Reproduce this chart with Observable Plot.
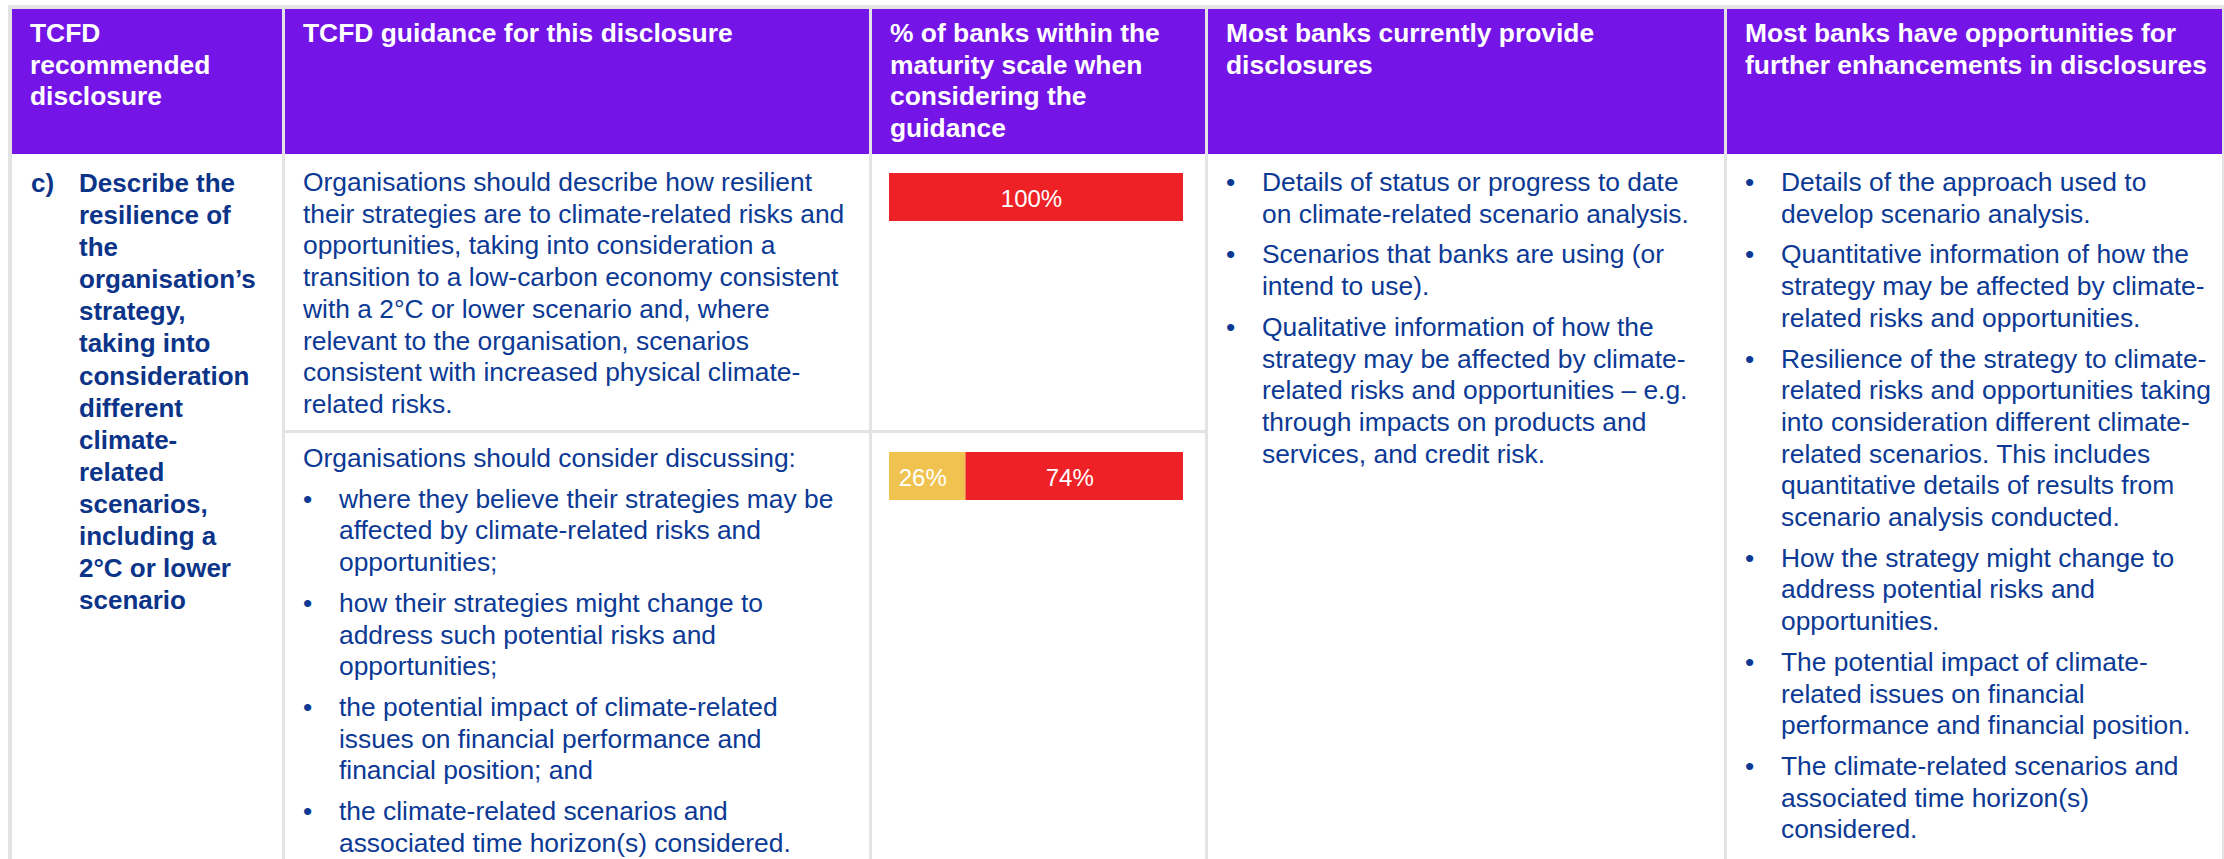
<!DOCTYPE html>
<html>
<head>
<meta charset="utf-8">
<script src="https://cdn.jsdelivr.net/npm/d3@7"></script>
<script src="https://cdn.jsdelivr.net/npm/@observablehq/plot@0.6"></script>
<style>
  html, body { margin: 0; padding: 0; background: #ffffff; width: 2224px; height: 859px; overflow: hidden; }
  body { position: relative; font-family: "Liberation Sans", Arial, sans-serif; }
  #frame { position: absolute; left: 8px; top: 5px; width: 2216px; height: 900px; background: #e3e3e3; }
  .cell { position: absolute; box-sizing: border-box; overflow: hidden; }
  .head { background: #7414e6; color: #ffffff; font-weight: bold; font-size: 26.4px; line-height: 31.7px; padding: 9px 0 0 18px; }
  .body { background: #ffffff; color: #0b3994; font-size: 26.4px; line-height: 31.7px; padding-left: 18px; }
  .line { white-space: nowrap; }
  .para { position: relative; }
  .para + .para { margin-top: 9px; }
  .bul { padding-left: 36px; }
  .bul .dot { position: absolute; left: 0; top: 0; }
  .lbl { position: absolute; left: 19px; font-weight: bold; }
  .bold { font-weight: bold; color: #0b3489; font-size: 26px; line-height: 32.1px; }
  svg { display: block; }
</style>
</head>
<body>
<div id="frame"></div>
<script>
// ---------- data ----------
const headerTexts = [
  ["TCFD", "recommended", "disclosure"],
  ["TCFD guidance for this disclosure"],
  ["% of banks within the", "maturity scale when", "considering the", "guidance"],
  ["Most banks currently provide", "disclosures"],
  ["Most banks have opportunities for", "further enhancements in disclosures"]
];
const disclosureLabel = "c)";
const disclosureLines = ["Describe the", "resilience of", "the", "organisation\u2019s", "strategy,", "taking into",
  "consideration", "different", "climate-", "related", "scenarios,", "including a", "2°C or lower", "scenario"];
const guidance1Lines = [
  "Organisations should describe how resilient",
  "their strategies are to climate-related risks and",
  "opportunities, taking into consideration a",
  "transition to a low-carbon economy consistent",
  "with a 2°C or lower scenario and, where",
  "relevant to the organisation, scenarios",
  "consistent with increased physical climate-",
  "related risks."
];
const guidance2Intro = ["Organisations should consider discussing:"];
const guidance2Bullets = [
  ["where they believe their strategies may be", "affected by climate-related risks and", "opportunities;"],
  ["how their strategies might change to", "address such potential risks and", "opportunities;"],
  ["the potential impact of climate-related", "issues on financial performance and", "financial position; and"],
  ["the climate-related scenarios and", "associated time horizon(s) considered."]
];
const currentBullets = [
  ["Details of status or progress to date", "on climate-related scenario analysis."],
  ["Scenarios that banks are using (or", "intend to use)."],
  ["Qualitative information of how the", "strategy may be affected by climate-", "related risks and opportunities \u2013 e.g.", "through impacts on products and", "services, and credit risk."]
];
const enhanceBullets = [
  ["Details of the approach used to", "develop scenario analysis."],
  ["Quantitative information of how the", "strategy may be affected by climate-", "related risks and opportunities."],
  ["Resilience of the strategy to climate-", "related risks and opportunities taking", "into consideration different climate-", "related scenarios. This includes", "quantitative details of results from", "scenario analysis conducted."],
  ["How the strategy might change to", "address potential risks and", "opportunities."],
  ["The potential impact of climate-", "related issues on financial", "performance and financial position."],
  ["The climate-related scenarios and", "associated time horizon(s)", "considered."]
];
const maturityLevels = ["partial", "full"];
const maturityColors = ["#f0c350", "#ee2226"];
const bar1Levels = ["full"];
const bar1Values = [100];
const bar2Levels = ["partial", "full"];
const bar2Values = [26, 74];

// ---------- layout ----------
const colLeft = [12, 285, 872, 1208, 1727];
const colRight = [282, 869, 1205, 1724, 2222];
const headTop = 9, headBottom = 154, rowDivTop = 430, rowDivBottom = 433, bottom = 900;
const body = d3.select("body");

function cell(cls, col, top, bot) {
  return body.append("div").attr("class", "cell " + cls)
    .style("left", colLeft[col] + "px").style("top", top + "px")
    .style("width", (colRight[col] - colLeft[col]) + "px").style("height", (bot - top) + "px");
}
function addLines(sel, lines) {
  lines.forEach(t => sel.append("div").attr("class", "line").text(t));
}
function addBullets(sel, list) {
  list.forEach(lines => {
    const p = sel.append("div").attr("class", "para bul");
    p.append("span").attr("class", "dot").text("\u2022");
    addLines(p, lines);
  });
}

// header
headerTexts.forEach((lines, i) => addLines(cell("head", i, headTop, headBottom), lines));

// column 1
const c1 = cell("body bold", 0, headBottom, bottom).style("padding-top", "13px").style("padding-left", "67px");
c1.append("div").attr("class", "lbl").style("top", "13px").text(disclosureLabel);
addLines(c1, disclosureLines);

// column 2
const g1 = cell("body", 1, headBottom, rowDivTop).style("padding-top", "13px");
addLines(g1.append("div").attr("class", "para"), guidance1Lines);
const g2 = cell("body", 1, rowDivBottom, bottom).style("padding-top", "10px");
addLines(g2.append("div").attr("class", "para"), guidance2Intro);
addBullets(g2, guidance2Bullets);

// column 3 : bars
function bar(levels, values) {
  const data = levels.map((l, i) => ({level: l, pct: values[i]}));
  return Plot.plot({
    width: colRight[2] - colLeft[2], height: 48,
    marginLeft: 17, marginRight: 22, marginTop: 0, marginBottom: 0,
    x: {domain: [0, 100], axis: null},
    color: {type: "ordinal", domain: maturityLevels, range: maturityColors},
    style: {fontFamily: "'Liberation Sans', Arial, sans-serif", background: "transparent", overflow: "visible"},
    marks: [
      Plot.barX(data, Plot.stackX({x: "pct", fill: "level", order: null})),
      Plot.text(data, Plot.stackX({x: "pct", order: null, text: d => d.pct + "%", fill: "white", fontSize: 24, dx: -5, dy: 2}))
    ]
  });
}
const b1 = cell("body", 2, headBottom, rowDivTop).style("padding", "19px 0 0 0");
b1.node().appendChild(bar(bar1Levels, bar1Values));
const b2 = cell("body", 2, rowDivBottom, bottom).style("padding", "19px 0 0 0");
b2.node().appendChild(bar(bar2Levels, bar2Values));

// column 4
const c4 = cell("body", 3, headBottom, bottom).style("padding-top", "13px");
addBullets(c4, currentBullets);

// column 5
const c5 = cell("body", 4, headBottom, bottom).style("padding-top", "13px");
addBullets(c5, enhanceBullets);
</script>
</body>
</html>
